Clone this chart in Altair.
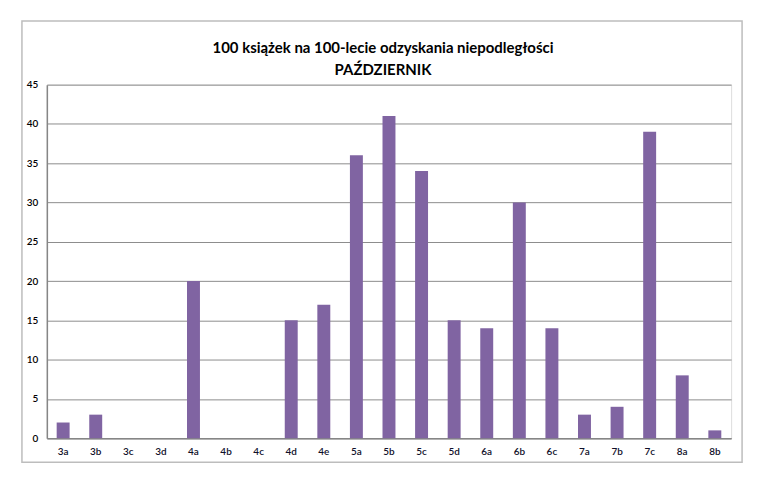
import altair as alt
import pandas as pd

classes = ["3a", "3b", "3c", "3d", "4a", "4b", "4c", "4d", "4e", "5a", "5b",
           "5c", "5d", "6a", "6b", "6c", "7a", "7b", "7c", "8a", "8b"]
books = [2, 3, 0, 0, 20, 0, 0, 15, 17, 36, 41, 34, 15, 14, 30, 14, 3, 4, 39, 8, 1]
y_ticks = [0, 5, 10, 15, 20, 25, 30, 35, 40, 45]

df = pd.DataFrame({"klasa": classes, "liczba": books})

FONT = "Lato"

bars = alt.Chart(df).mark_bar(color="#8064A2", size=13).encode(
    x=alt.X("klasa:N", sort=classes, title=None,
            scale=alt.Scale(paddingInner=0.6, paddingOuter=0.3),
            axis=alt.Axis(labelAngle=0, ticks=False, domainColor="#868686",
                          domainWidth=1.5, labelPadding=8, labelFontSize=10,
                          labelColor="#10102a", labelFont=FONT, labelFontWeight=600,
                          grid=False)),
    y=alt.Y("liczba:Q", title=None,
            scale=alt.Scale(domain=[0, 45], nice=False),
            axis=alt.Axis(values=y_ticks, ticks=False, domainColor="#868686",
                          domainWidth=1.5, gridColor="#8c8c8c", gridWidth=1,
                          labelPadding=9, labelFontSize=10, labelColor="#000000",
                          labelFont=FONT, labelFontWeight=600, domain=True)),
)

frame = alt.Chart(alt.Data(values=[{"f": 1}])).mark_rect(
    fill=None, stroke="#bdbdbd", strokeWidth=1.5
).encode(
    x=alt.value(-25), x2=alt.value(698),
    y=alt.value(-64), y2=alt.value(379),
)

chart = alt.layer(frame, bars).properties(
    width=687,
    height=355,
    title=alt.TitleParams(
        text=["100 książek na 100-lecie odzyskania niepodległości", "PAŹDZIERNIK"],
        font=FONT, fontSize=15, fontWeight="bold", color="#000000",
        anchor="middle", dx=-6, dy=66, offset=8, lineHeight=22,
    ),
    autosize=alt.AutoSizeParams(type="none"),
    padding={"left": 39, "top": 76, "right": 30, "bottom": 40},
).configure_view(stroke=None).configure(background="white")

chart.save("out.html", embed_options={"renderer": "svg", "actions": False})
